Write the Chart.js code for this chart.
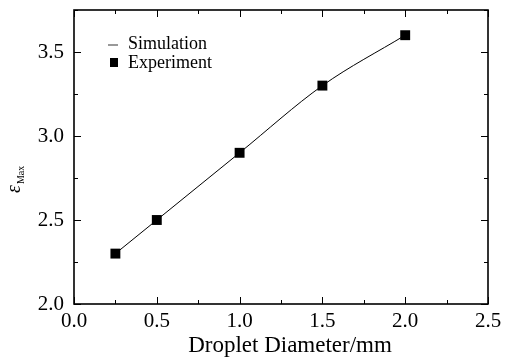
<!DOCTYPE html>
<html>
<head>
<meta charset="utf-8">
<script src="https://cdn.jsdelivr.net/npm/chart.js@4/dist/chart.umd.min.js"></script>
<style>
    html, body { margin: 0; padding: 0; background: #fff; }
    #wrap { width: 508px; height: 363px; }
</style>
</head>
<body>
<div id="wrap"><canvas id="chart" width="508" height="363"></canvas></div>
<script>
// Data
const diameters = [0.25, 0.5, 1.0, 1.5, 2.0];
const simulationValues = [2.3, 2.5, 2.9, 3.3, 3.6];
const experimentValues = [2.3, 2.5, 2.9, 3.3, 3.6];
const xTicks = [0.0, 0.5, 1.0, 1.5, 2.0, 2.5];
const yTicks = [2.0, 2.5, 3.0, 3.5];

const SERIF = '"Liberation Serif", "Times New Roman", serif';

// frame with inward ticks on all four sides, axis titles and legend
const framePlugin = {
    id: 'frame',
    afterDatasetsDraw(chart) {
        const { ctx, chartArea: a, scales: { x, y } } = chart;
        ctx.save();
        ctx.strokeStyle = '#000';
        ctx.lineWidth = 1.6;
        ctx.strokeRect(a.left, a.top, a.right - a.left, a.bottom - a.top);
        ctx.lineWidth = 1;
        ctx.beginPath();
        for (let v = 0; v <= 2.5001; v += 0.25) {
            const px = Math.round(x.getPixelForValue(v)) + 0.5;
            const len = Math.abs(v * 2 - Math.round(v * 2)) < 1e-6 ? 7 : 4;
            ctx.moveTo(px, a.bottom); ctx.lineTo(px, a.bottom - len);
            ctx.moveTo(px, a.top); ctx.lineTo(px, a.top + len);
        }
        for (let v = 2.0; v <= 3.75; v += 0.25) {
            const py = Math.round(y.getPixelForValue(v)) + 0.5;
            const len = Math.abs(v * 2 - Math.round(v * 2)) < 1e-6 ? 7 : 4;
            ctx.moveTo(a.left, py); ctx.lineTo(a.left + len, py);
            ctx.moveTo(a.right, py); ctx.lineTo(a.right - len, py);
        }
        ctx.stroke();

        // x axis title
        ctx.fillStyle = '#000';
        ctx.font = '23px ' + SERIF;
        ctx.textAlign = 'center';
        ctx.textBaseline = 'middle';
        ctx.fillText('Droplet Diameter/mm', 290, 346);

        // y axis title: epsilon with subscript "Max"
        ctx.translate(20, 193);
        ctx.rotate(-Math.PI / 2);
        ctx.textBaseline = 'alphabetic';
        ctx.textAlign = 'left';
        ctx.font = 'italic 20px ' + SERIF;
        const w = ctx.measureText('\u03b5').width;
        ctx.fillText('\u03b5', 0, 0);
        ctx.font = '10px ' + SERIF;
        ctx.fillText('Max', w + 1, 4);
        ctx.restore();

        // legend
        ctx.save();
        ctx.fillStyle = '#000';
        ctx.font = '18px ' + SERIF;
        ctx.textBaseline = 'middle';
        ctx.fillText('Simulation', 128, 44);
        ctx.fillText('Experiment', 128, 63);
        ctx.strokeStyle = '#555';
        ctx.lineWidth = 1.2;
        ctx.beginPath();
        ctx.moveTo(108, 45); ctx.lineTo(118, 45);
        ctx.stroke();
        ctx.fillRect(110, 58, 8, 9);
        ctx.restore();
    }
};

new Chart(document.getElementById('chart'), {
    type: 'scatter',
    data: {
        datasets: [
            {
                label: 'Simulation',
                data: diameters.map((d, i) => ({ x: d, y: simulationValues[i] })),
                showLine: true,
                borderColor: '#000',
                borderWidth: 1,
                pointRadius: 0,
                cubicInterpolationMode: 'monotone'
            },
            {
                label: 'Experiment',
                data: diameters.map((d, i) => ({ x: d, y: experimentValues[i] })),
                pointStyle: 'rect',
                pointRadius: 7,
                backgroundColor: '#000',
                borderColor: '#000',
                borderWidth: 0
            }
        ]
    },
    options: {
        responsive: false,
        animation: false,
        layout: { padding: { top: 10, right: 20, left: 0, bottom: 0 } },
        plugins: { legend: { display: false }, tooltip: { enabled: false } },
        scales: {
            x: {
                type: 'linear',
                min: 0,
                max: 2.5,
                afterBuildTicks: s => { s.ticks = xTicks.map(v => ({ value: v })); },
                afterFit: s => { s.height = 59; s.paddingLeft = 0; s.paddingRight = 0; },
                grid: { display: false, drawTicks: false },
                border: { display: false },
                ticks: {
                    color: '#000',
                    padding: 5,
                    font: { family: SERIF, size: 21 },
                    callback: v => v.toFixed(1)
                }
            },
            y: {
                type: 'linear',
                min: 2.0,
                max: 3.75,
                afterBuildTicks: s => { s.ticks = yTicks.map(v => ({ value: v })); },
                afterFit: s => { s.width = 74; s.paddingTop = 0; s.paddingBottom = 0; },
                grid: { display: false, drawTicks: false },
                border: { display: false },
                ticks: {
                    color: '#000',
                    padding: 10,
                    font: { family: SERIF, size: 21 },
                    callback: v => v.toFixed(1)
                }
            }
        }
    },
    plugins: [framePlugin]
});
</script>
</body>
</html>
